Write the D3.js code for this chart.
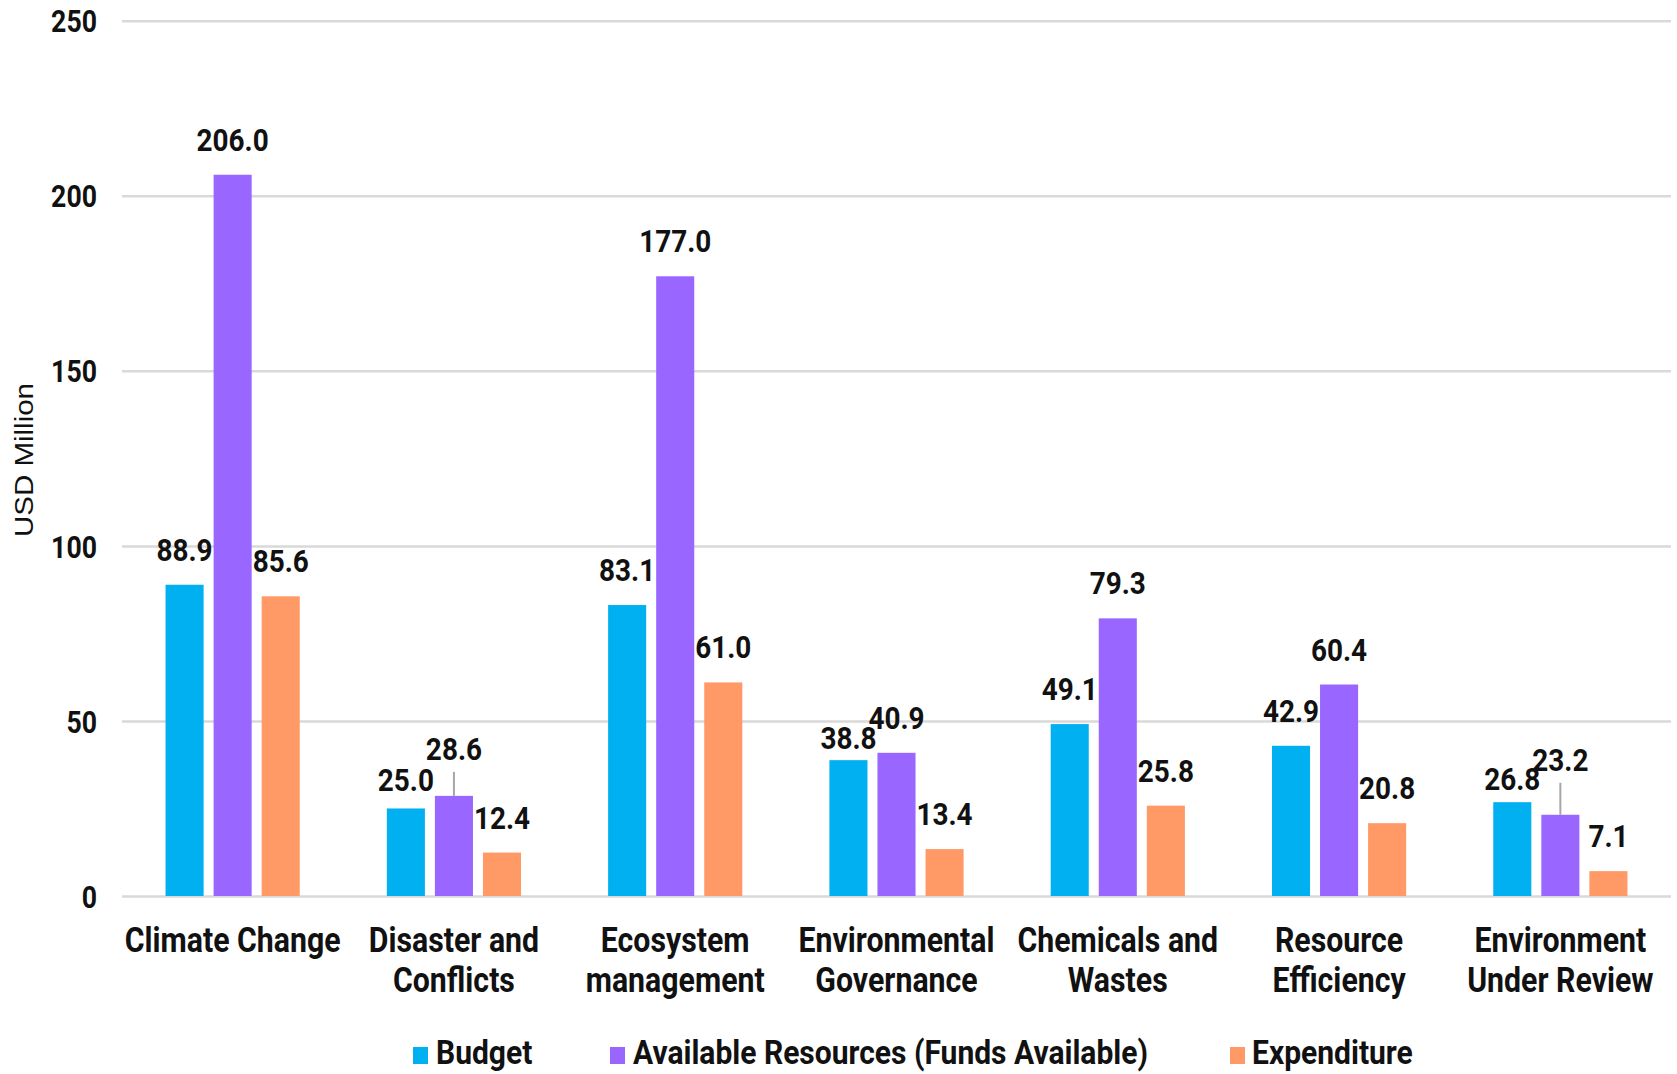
<!DOCTYPE html>
<html>
<head>
<meta charset="utf-8">
<script src="https://cdn.jsdelivr.net/npm/d3@7/dist/d3.min.js"></script>
<style>
  html, body { margin: 0; padding: 0; background: #fff; }
  svg { display: block; }
</style>
</head>
<body>
<svg id="chart" width="1677" height="1074"></svg>
<script>
// ---- Data ----
const categories = [
  "Climate Change",
  "Disaster and\nConflicts",
  "Ecosystem\nmanagement",
  "Environmental\nGovernance",
  "Chemicals and\nWastes",
  "Resource\nEfficiency",
  "Environment\nUnder Review"
];
const seriesNames = ["Budget", "Available Resources (Funds Available)", "Expenditure"];
const budget      = [88.9, 25.0, 83.1, 38.8, 49.1, 42.9, 26.8];
const available   = [206.0, 28.6, 177.0, 40.9, 79.3, 60.4, 23.2];
const expenditure = [85.6, 12.4, 61.0, 13.4, 25.8, 20.8, 7.1];
const yTicks = [0, 50, 100, 150, 200, 250];
const yTitle = "USD Million";

// ---- Styles / layout ----
const colors = ["#00b0f0", "#9966ff", "#ff9966"];
const SX = 0.88; // horizontal text condensation
const FONT = "Roboto, 'Noto Sans', sans-serif";

const svg = d3.select("#chart");
const plotL = 122, plotR = 1671, plotT = 20.7, plotB = 896;

const x0 = d3.scaleBand().domain(categories).range([plotL, plotR]).paddingInner(0).paddingOuter(0);
const x1 = d3.scaleBand().domain(seriesNames).range([0, x0.bandwidth()]).paddingInner(0.208).paddingOuter(0.906);
const y = d3.scaleLinear().domain([0, 250]).range([plotB, plotT]);

function addText(g, x, yy, str, o) {
  o = o || {};
  return g.append("text")
    .attr("transform", `translate(${x},${yy}) scale(${o.sx || SX},1)`)
    .attr("text-anchor", o.anchor || "middle")
    .attr("font-family", o.family || FONT)
    .attr("font-weight", o.weight || 700)
    .attr("font-size", o.size || 31)
    .attr("fill", o.fill || "#111")
    .text(str);
}

// ---- Gridlines + y labels via axis ----
const yAxis = d3.axisLeft(y).tickValues(yTicks).tickSize(-(plotR - plotL)).tickFormat(d => d);
const ga = svg.append("g").attr("transform", `translate(${plotL},0)`).call(yAxis);
ga.select(".domain").remove();
ga.selectAll(".tick line").attr("stroke", "#d9d9d9").attr("stroke-width", 2.5);
ga.selectAll(".tick text")
  .attr("x", 0).attr("dy", "0.36em")
  .attr("transform", `translate(-25,0) scale(0.86,1)`)
  .attr("text-anchor", "end")
  .attr("font-family", FONT).attr("font-weight", 700).attr("font-size", 31).attr("fill", "#111");

// ---- Y title ----
svg.append("text")
  .attr("transform", `translate(33,460) rotate(-90) scale(1.18,1)`)
  .attr("text-anchor", "middle")
  .attr("font-family", "'Liberation Sans', Arial, sans-serif")
  .attr("font-size", 25)
  .attr("fill", "#111")
  .text(yTitle);

// ---- Bars ----
const seriesValues = [budget, available, expenditure];
const rows = [];
seriesValues.forEach((vals, si) => vals.forEach((v, ci) => rows.push({ si, ci, v })));

const gBars = svg.append("g");
gBars.selectAll("rect").data(rows).join("rect")
  .attr("x", d => x0(categories[d.ci]) + x1(seriesNames[d.si]))
  .attr("width", x1.bandwidth())
  .attr("y", d => y(d.v))
  .attr("height", d => y(0) - y(d.v))
  .attr("fill", d => colors[d.si]);

// ---- Data labels (with manual nudges for overlaps) ----
const nudges = { "0-1": 7, "1-1": -12, "0-3": 13, "0-6": 12, "1-6": -20 };
const leaders = { "1-1": true, "1-6": true };
const gLab = svg.append("g");
rows.forEach(d => {
  const key = d.si + "-" + d.ci;
  const cx = x0(categories[d.ci]) + x1(seriesNames[d.si]) + x1.bandwidth() / 2;
  const base = y(d.v) - 24 + (nudges[key] || 0);
  if (leaders[key]) {
    gLab.append("line")
      .attr("x1", cx).attr("x2", cx)
      .attr("y1", base + 12).attr("y2", y(d.v))
      .attr("stroke", "#a6a6a6").attr("stroke-width", 2);
  }
  addText(gLab, cx, base, d.v.toFixed(1), { size: 31, sx: 0.9 });
});

// ---- Category labels ----
const gCat = svg.append("g");
categories.forEach(c => {
  const cx = x0(c) + x0.bandwidth() / 2;
  c.split("\n").forEach((line, i) => {
    addText(gCat, cx, 952 + i * 40, line, { size: 35, sx: 0.865 });
  });
});

// ---- Legend ----
const legendItems = [
  { sw: 413, tx: 436 },
  { sw: 610, tx: 633 },
  { sw: 1230, tx: 1252 }
];
const gLeg = svg.append("g");
seriesNames.forEach((s, i) => {
  gLeg.append("rect")
    .attr("x", legendItems[i].sw).attr("y", 1047)
    .attr("width", 15).attr("height", 17)
    .attr("fill", colors[i]);
  addText(gLeg, legendItems[i].tx, 1064, s, { size: 33, anchor: "start", sx: 0.91 });
});
</script>
</body>
</html>
